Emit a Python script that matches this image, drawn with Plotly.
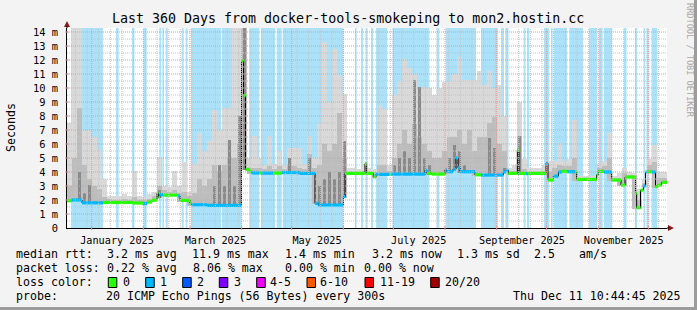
import bisect
import pandas as pd
import plotly.graph_objects as go

# ---------------- time frame ----------------
WINDOW_START = pd.Timestamp("2024-12-17 04:48:00")
WINDOW_DAYS = 360
BIN_DAYS = 3
Y_TOP_MS = 14.2857

# ---------------- data ----------------
# periods with 1/20 packet loss (days since window start)
band_start = [2.4, 29.4, 39.0, 45.9, 55.4, 57.2, 59.2, 68.8, 71.2, 74.4,
              93.0, 109.4, 116.4, 125.8, 129.4, 172.8, 176.4, 179.1, 182.4, 185.4,
              195.3, 221.8, 227.2, 248.4, 260.4, 263.0, 274.0, 276.0, 286.2, 290.4,
              292.2, 301.4, 313.2, 319.2, 322.2, 334.2, 340.8, 345.9, 347.8, 350.7]
band_end = [21.6, 31.0, 40.4, 47.8, 56.4, 58.2, 60.4, 70.0, 72.3, 92.4,
            104.8, 115.4, 124.8, 128.8, 165.8, 173.8, 177.6, 180.2, 183.6, 192.2,
            217.4, 223.4, 245.4, 258.4, 262.2, 264.9, 275.1, 277.2, 289.2, 291.4,
            300.0, 309.6, 318.0, 321.4, 327.0, 335.7, 342.0, 346.8, 349.0, 354.2]

# smoke tops per 3-day bin (ms)
smoke_light = [7.5, 14.3, 14.3, 7.0, 7.0, 6.5, 5.6, 3.5, 2.3, 2.3,
               2.3, 2.4, 2.3, 4.1, 2.3, 2.2, 2.4, 2.6, 5.1, 3.0,
               2.9, 4.1, 3.0, 4.7, 2.6, 4.6, 6.8, 5.5, 6.2, 8.4,
               7.0, 8.6, 8.6, 14.3, 14.3, 14.3, 5.0, 6.6, 5.0, 4.5,
               6.6, 4.6, 5.5, 4.5, 5.7, 5.7, 5.7, 4.6, 6.6, 5.0,
               7.5, 13.3, 9.0, 12.8, 10.9, 9.6, 4.3, 4.3, 4.2, 4.6,
               4.3, 4.2, 8.8, 8.5, 4.5, 9.5, 10.5, 12.1, 11.4, 11.0,
               10.1, 10.1, 10.0, 9.5, 10.0, 10.4, 10.5, 11.0, 12.2, 10.6,
               10.6, 10.6, 11.2, 10.2, 11.2, 10.0, 10.2, 8.0, 4.3, 4.5,
               9.0, 4.9, 4.3, 4.3, 4.3, 4.5, 4.8, 4.8, 6.1, 4.8,
               4.9, 7.7, 3.7, 3.7, 3.7, 3.7, 4.6, 4.8, 6.8, 3.7,
               3.9, 4.3, 4.0, 3.9, 2.8, 3.5, 4.9, 5.9, 4.0, 4.0]
smoke_mid = [3.0, 5.0, 8.6, 4.5, 3.5, 3.0, 2.8, 2.2, 2.1, 2.0,
             2.0, 2.1, 2.0, 2.2, 2.0, 2.0, 2.1, 2.3, 3.0, 2.7,
             2.6, 2.7, 2.5, 2.6, 2.3, 2.5, 3.5, 3.0, 3.5, 4.5,
             4.0, 4.5, 5.0, 5.0, 6.0, 14.3, 4.3, 4.3, 4.3, 4.2,
             4.4, 4.2, 4.4, 4.2, 4.5, 4.4, 4.3, 4.2, 5.3, 4.3,
             4.5, 6.0, 5.5, 6.0, 8.2, 5.0, 4.0, 4.0, 4.0, 4.1,
             4.0, 4.0, 4.5, 4.5, 4.1, 5.0, 6.0, 7.0, 6.0, 7.4,
             6.5, 6.0, 5.5, 5.0, 5.0, 5.5, 6.5, 6.5, 7.0, 6.0,
             7.0, 5.5, 6.5, 6.5, 7.5, 7.9, 6.0, 5.5, 4.1, 4.1,
             6.6, 4.2, 4.0, 4.0, 4.0, 4.1, 4.0, 4.3, 4.5, 4.4,
             4.4, 5.0, 3.6, 3.6, 3.6, 3.6, 4.3, 4.4, 5.0, 3.6,
             3.6, 3.9, 3.8, 3.8, 2.0, 3.2, 4.5, 4.7, 3.6, 3.6]
smoke_dark = [0, 0, 4.0, 2.5, 3.1, 0, 0, 0, 0, 0,
              0, 0, 0, 0, 0, 0, 0, 0, 2.7, 0,
              0, 0, 0, 0, 0, 0, 0, 0, 0, 3.0,
              4.5, 3.0, 6.3, 3.0, 8.0, 14.3, 0, 0, 0, 0,
              0, 0, 0, 0, 5.0, 0, 0, 0, 5.0, 0,
              3.0, 3.5, 4.0, 3.5, 4.0, 6.2, 0, 0, 0, 0,
              0, 0, 0, 0, 0, 4.5, 5.0, 5.5, 5.0, 10.6,
              10.1, 5.0, 4.5, 0, 0, 0, 5.0, 5.9, 5.5, 4.5,
              0, 0, 0, 0, 6.4, 5.7, 0, 4.3, 0, 0,
              6.6, 0, 0, 0, 0, 0, 0, 0, 0, 0,
              0, 0, 0, 0, 0, 0, 0, 0, 0, 0,
              0, 0, 0, 0, 0, 0, 0, 0, 0, 0]

# median rtt step series: segment start (days), value (ms), lost pings
med_start = [0.0, 2.8, 9.0, 21.6, 39.6, 45.6, 48.0, 51.0, 54.0, 54.9,
             55.8, 57.6, 66.6, 67.8, 73.8, 74.7, 84.0, 104.7, 105.9, 107.1,
             109.8, 110.8, 115.2, 116.4, 124.2, 129.0, 139.8, 148.8, 150.8, 165.8,
             166.8, 178.8, 179.8, 183.8, 185.4, 193.2, 195.0, 214.8, 216.0, 218.8,
             226.8, 227.8, 231.6, 233.4, 234.6, 235.8, 244.8, 248.4, 261.8, 263.4,
             264.8, 270.2, 271.2, 275.4, 276.6, 287.4, 288.6, 291.8, 294.8, 297.0,
             300.0, 304.8, 305.8, 317.8, 318.8, 322.2, 326.8, 332.4, 334.8, 341.1,
             341.8, 344.1, 345.8, 347.1, 348.0, 351.0, 353.1, 354.4, 356.8]
med_val = [1.95, 2.0, 1.8, 1.82, 1.78, 1.75, 1.85, 1.98, 2.5, 2.2,
           2.38, 2.35, 2.3, 1.97, 1.78, 1.66, 1.62, 11.93, 9.45, 4.19,
           4.05, 3.93, 3.93, 3.92, 3.92, 3.96, 3.9, 1.76, 1.64, 2.24,
           3.9, 4.6, 3.9, 3.66, 3.83, 3.83, 3.85, 4.12, 3.9, 3.85,
           4.14, 4.02, 4.2, 5.0, 4.3, 4.02, 3.8, 3.78, 4.0, 4.12,
           3.9, 5.57, 3.9, 3.88, 3.9, 4.62, 3.43, 3.7, 4.0, 4.05,
           4.02, 4.0, 3.47, 3.8, 4.05, 4.0, 3.42, 3.07, 3.64, 2.48,
           1.45, 2.7, 3.0, 4.0, 4.02, 4.0, 2.95, 3.07, 3.26]
med_loss = [0, 1, 1, 0, 0, 1, 0, 0, 0, 0,
            1, 0, 1, 0, 0, 1, 1, 0, 0, 0,
            0, 1, 0, 1, 0, 1, 1, 1, 1, 1,
            0, 0, 0, 0, 1, 0, 1, 1, 0, 0,
            1, 1, 1, 1, 1, 1, 0, 1, 1, 1,
            0, 0, 0, 1, 0, 1, 0, 1, 1, 0,
            1, 0, 0, 0, 0, 1, 0, 0, 0, 0,
            0, 0, 1, 1, 0, 1, 0, 0, 0]

y_tick_vals = list(range(0, 15))
y_tick_text = ["0"] + [f"{v} m" for v in range(1, 15)]
month_label_dates = ["2025-01-16 05:00", "2025-03-16 05:00", "2025-05-16 05:00",
                     "2025-07-16 05:00", "2025-09-16 05:00", "2025-11-16 05:00"]
month_labels = ["January 2025", "March 2025", "May 2025",
                "July 2025", "September 2025", "November 2025"]

loss_labels = ["0", "1", "2", "3", "4-5", "6-10", "11-19", "20/20"]
loss_colors = ["#26ff00", "#00b8ff", "#0059ff", "#7e00ff",
               "#ee00ff", "#ff5500", "#ff0000", "#a10000"]

# ---------------- styling ----------------
BG = "#f3f3f3"
BAND = "#abe2f9"
SMOKE = ["#d9d9d9", "#bdbdbd", "#8a8a8a"]
MONO = "DejaVu Sans Mono"
W, H = 697, 310
L, R, T, B = 67, 30, 28, 82
PW, PH = W - L - R, H - T - B
DAY_MS = 86400000


def day(d):
    return WINDOW_START + pd.to_timedelta(d, unit="D")


def xp(px):
    return (px - L) / PW


def yp(py):
    return (T + PH - py) / PH


def med_at(d):
    i = bisect.bisect_right(med_start, d) - 1
    return med_val[max(i, 0)]


WINDOW_END = day(WINDOW_DAYS)
n_bins = len(smoke_light)
centers = [day(BIN_DAYS * i + BIN_DAYS / 2) for i in range(n_bins)]
bases = []
for i in range(n_bins):
    a = BIN_DAYS * i
    bases.append(min(med_at(a + BIN_DAYS / 2), med_at(a + BIN_DAYS - 0.01)) - 0.08)

fig = go.Figure()

# smoke layers
for tops, col, wd in [(smoke_light, SMOKE[0], BIN_DAYS), (smoke_mid, SMOKE[1], BIN_DAYS),
                      (smoke_dark, SMOKE[2], BIN_DAYS * 0.45)]:
    hts = [max(t - b, 0) for t, b in zip(tops, bases)]
    fig.add_trace(go.Bar(x=centers, y=hts, base=bases, width=wd * DAY_MS,
                         marker=dict(color=col, line=dict(width=0)),
                         hoverinfo="skip", showlegend=False))

# median black step line
mx = [day(s) for s in med_start] + [WINDOW_END]
my = med_val + [med_val[-1]]
fig.add_trace(go.Scatter(x=mx, y=my, mode="lines", line=dict(color="#000000", width=1, shape="hv"),
                         hoverinfo="skip", showlegend=False))

# median coloured by loss
for lv in sorted(set(med_loss)):
    xs, ys = [], []
    for k, (s, v, ls) in enumerate(zip(med_start, med_val, med_loss)):
        if ls != lv:
            continue
        e = med_start[k + 1] if k + 1 < len(med_start) else WINDOW_DAYS
        xs += [day(s), day(e), None]
        ys += [v, v, None]
    fig.add_trace(go.Scatter(x=xs, y=ys, mode="lines",
                             line=dict(color=loss_colors[lv], width=3.2),
                             hoverinfo="skip", showlegend=False))

shapes = []
# loss background bands
for s, e in zip(band_start, band_end):
    shapes.append(dict(type="rect", xref="x", yref="paper", x0=day(s), x1=day(e), y0=0, y1=1,
                       fillcolor=BAND, line=dict(width=0), layer="below"))

# grid (drawn over the data, like rrdtool)
MINOR = "#c4c4c4"
MAJOR = "#e59a9a"
month_starts = pd.date_range("2025-01-01", "2025-12-01", freq="MS")
weeks = [w for w in pd.date_range(WINDOW_START, WINDOW_END, freq="W-SUN") if w not in set(month_starts)]
for w in weeks:
    shapes.append(dict(type="line", xref="x", yref="paper", x0=w, x1=w, y0=0, y1=1,
                       line=dict(color=MINOR, width=1, dash="1px,1px"), layer="above"))
for h in [k + 0.5 for k in range(0, 14)]:
    shapes.append(dict(type="line", xref="paper", yref="y", x0=0, x1=1, y0=h, y1=h,
                       line=dict(color=MINOR, width=1, dash="1px,1px"), layer="above"))
for m in month_starts:
    shapes.append(dict(type="line", xref="x", yref="paper", x0=m, x1=m, y0=0, y1=1,
                       line=dict(color=MAJOR, width=1, dash="1px,1px"), layer="above"))
for h in range(1, 15):
    shapes.append(dict(type="line", xref="paper", yref="y", x0=0, x1=1, y0=h, y1=h,
                       line=dict(color=MAJOR, width=1, dash="1px,1px"), layer="above"))

# axis tick marks (rrdtool style, crossing the axis)
for m in month_starts:
    shapes.append(dict(type="line", xref="x", yref="paper", x0=m, x1=m, y0=yp(230), y1=yp(226),
                       line=dict(color=MAJOR, width=1), layer="above"))
for h in range(1, 15):
    shapes.append(dict(type="line", xref="paper", yref="y", x0=xp(65), x1=xp(69), y0=h, y1=h,
                       line=dict(color=MAJOR, width=1), layer="above"))

# axis arrows
ARROW = "#8b1a1a"
shapes.append(dict(type="path", xref="paper", yref="paper",
                   path=f"M {xp(668)},{yp(225)} L {xp(674)},{yp(228)} L {xp(668)},{yp(231)} Z",
                   fillcolor=ARROW, line=dict(width=0), layer="above"))
shapes.append(dict(type="path", xref="paper", yref="paper",
                   path=f"M {xp(64)},{yp(27)} L {xp(67)},{yp(21)} L {xp(70)},{yp(27)} Z",
                   fillcolor=ARROW, line=dict(width=0), layer="above"))
shapes.append(dict(type="line", xref="paper", yref="paper", x0=xp(667), x1=xp(669), y0=0, y1=0,
                   line=dict(color="black", width=1)))
shapes.append(dict(type="line", xref="paper", yref="paper", x0=0, x1=0, y0=1, y1=yp(26),
                   line=dict(color="black", width=1)))
# canvas frame
shapes.append(dict(type="rect", xref="paper", yref="paper", x0=xp(694), x1=xp(697), y0=yp(0), y1=yp(310),
                   fillcolor="#9c9c9c", line=dict(width=0)))
shapes.append(dict(type="rect", xref="paper", yref="paper", x0=xp(0), x1=xp(697), y0=yp(307), y1=yp(310),
                   fillcolor="#9c9c9c", line=dict(width=0)))

annotations = []


def text(px, py, s, size=11.6, color="#000000", anchor="left", angle=0):
    annotations.append(dict(xref="paper", yref="paper", x=xp(px), y=yp(py), text=s, showarrow=False,
                            xanchor=anchor, yanchor="middle", textangle=angle,
                            borderpad=0, borderwidth=0,
                            font=dict(family=MONO, size=size, color=color)))


text(347.5, 18.5, "Last 360 Days from docker-tools-smokeping to mon2.hostin.cc", size=13.3, anchor="center")
text(10.5, 127.5, "Seconds", size=11.6, anchor="center", angle=-90)
text(690, 60, "RRDTOOL / TOBI OETIKER", size=8.6, color="#a8a8a8", anchor="center", angle=90)

row1 = [("median rtt:", 15.5), ("3.2 ms avg", 106.6), ("11.9 ms max", 192.2), ("1.4 ms min", 285.0),
        ("3.2 ms now", 371.6), ("1.3 ms sd", 457.2), ("2.5", 534.3), ("am/s", 578.8)]
row2 = [("packet loss:", 15.5), ("0.22 % avg", 106.6), ("8.06 % max", 192.6), ("0.00 % min", 285.3),
        ("0.00 % now", 364.3)]
row4 = [("probe:", 15.5), ("20 ICMP Echo Pings (56 Bytes) every 300s", 106.3),
        ("Thu Dec 11 10:44:45 2025", 512.5)]
for s, px in row1:
    text(px, 254.3, s)
for s, px in row2:
    text(px, 268.3, s)
text(15.5, 282.3, "loss color:")
for s, px in row4:
    text(px, 296.0, s)

box_left = [108.3, 145.7, 182.7, 219.3, 256.7, 307.0, 365.0, 430.7]
label_left = [122.6, 159.8, 196.6, 233.6, 270.0, 320.3, 379.5, 445.0]
for lab, col, bx, lx in zip(loss_labels, loss_colors, box_left, label_left):
    shapes.append(dict(type="rect", xref="paper", yref="paper", x0=xp(bx), x1=xp(bx + 8.5),
                       y0=yp(287.5), y1=yp(277.5), fillcolor=col, line=dict(color="black", width=1)))
    text(lx, 282.3, lab)

fig.update_layout(
    width=W, height=H, margin=dict(l=L, r=R, t=T, b=B, pad=0),
    paper_bgcolor=BG, plot_bgcolor="#ffffff",
    barmode="overlay", bargap=0, showlegend=False,
    shapes=shapes, annotations=annotations,
    font=dict(family=MONO, size=10.4, color="#000000"),
    xaxis=dict(type="date", range=[WINDOW_START, WINDOW_END], showgrid=False, zeroline=False,
               tickvals=month_label_dates, ticktext=month_labels, ticks="",
               showline=True, linecolor="#000000", linewidth=1,
               tickfont=dict(family=MONO, size=10.2), ticklabelstandoff=3, fixedrange=True),
    yaxis=dict(range=[0, Y_TOP_MS], showgrid=False, zeroline=False,
               tickvals=y_tick_vals, ticktext=y_tick_text, ticks="",
               showline=True, linecolor="#000000", linewidth=1,
               tickfont=dict(family=MONO, size=10.4), ticklabelstandoff=6, fixedrange=True),
)

fig.write_html("out.html")
